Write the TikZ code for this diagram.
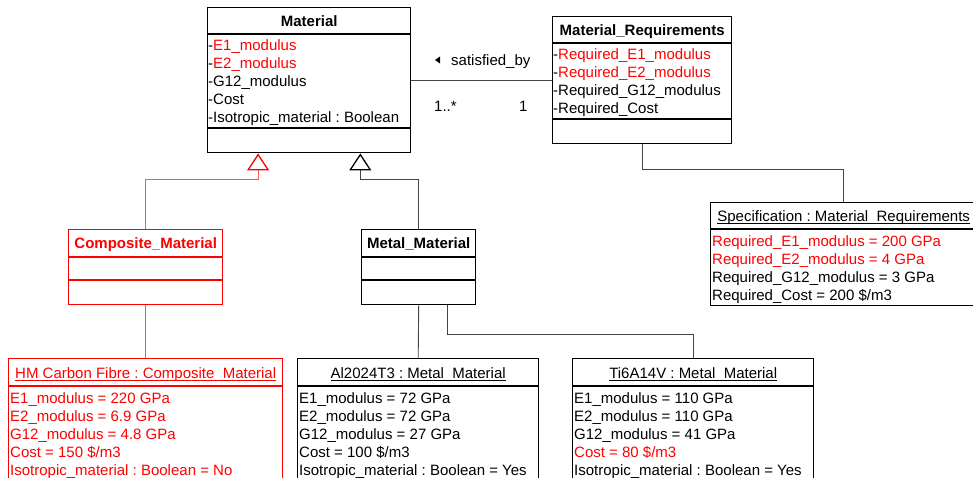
\documentclass[tikz,border=0pt]{standalone}
\usepackage{fontspec}
\setmainfont{Liberation Sans}
\usetikzlibrary{calc,arrows.meta}
\frenchspacing
\definecolor{umlred}{RGB}{255,0,0}
\definecolor{linkgray}{RGB}{70,70,70}
\definecolor{linkred}{RGB}{255,85,85}
% underline drawn close to the baseline, at the level of the underscores
\newcommand{\ulname}[1]{\setbox0\hbox{#1}\rlap{\rule[-2.4pt]{\wd0}{0.9pt}}\box0}
% horizontal compartment separator inside a class box
\newcommand{\sepline}[3]{\draw[sep,#3] ($(#1.north west)+(0,#2)$) -- ($(#1.north east)+(0,#2)$);}

\begin{document}
\begin{tikzpicture}[x=1pt,y=-1pt,
  box/.style={draw, line width=1.4pt, rectangle, inner sep=0pt, anchor=north west},
  sep/.style={line width=1.4pt},
  txt/.style={inner sep=0pt, anchor=base west, font=\fontsize{15}{18}\selectfont},
  hdr/.style={inner sep=0pt, anchor=base, font=\fontsize{15}{18}\selectfont\bfseries},
  inst/.style={inner sep=0pt, anchor=base, font=\fontsize{15}{18}\selectfont},
  link/.style={line width=0.9pt, draw=linkgray},
  gen/.style={link, -{Triangle[open, length=17pt, width=22pt, line width=1.3pt, color=black]}},
  genred/.style={line width=0.9pt, draw=linkred, -{Triangle[open, length=17pt, width=22pt, line width=1.3pt, color=umlred]}},
]
\useasboundingbox (0,0) rectangle (973,477);
\clip (0,0) rectangle (973,477);

% ---------- classes ----------
\node[box, minimum width=203, minimum height=145] (material) at (207,7) {};
\sepline{material}{27}{black}
\sepline{material}{121}{black}
\node[hdr] (materialT) at ($(material.north)+(0,19)$) {Material};
\node[txt] (ma1) at (208,50) {-\textcolor{umlred}{E1\_modulus}};
\node[txt] (ma2) at (208,68) {-\textcolor{umlred}{E2\_modulus}};
\node[txt] (ma3) at (208,86) {-G12\_modulus};
\node[txt] (ma4) at (208,104) {-Cost};
\node[txt] (ma5) at (208,122) {-Isotropic\_material : Boolean};

\node[box, minimum width=179, minimum height=127] (req) at (552,16) {};
\sepline{req}{27}{black}
\sepline{req}{103}{black}
\node[hdr] (reqT) at ($(req.north)+(0,19)$) {Material\_Requirements};
\node[txt] (ra1) at (553,59) {-\textcolor{umlred}{Required\_E1\_modulus}};
\node[txt] (ra2) at (553,77) {-\textcolor{umlred}{Required\_E2\_modulus}};
\node[txt] (ra3) at (553,95) {-Required\_G12\_modulus};
\node[txt] (ra4) at (553,113) {-Required\_Cost};

\node[box, draw=umlred, minimum width=154, minimum height=75] (comp) at (68,229) {};
\sepline{comp}{28}{umlred}
\sepline{comp}{51}{umlred}
\node[hdr, text=umlred] (compT) at ($(comp.north)+(0,19)$) {Composite\_Material};

\node[box, minimum width=114, minimum height=75] (metal) at (361,229) {};
\sepline{metal}{28}{black}
\sepline{metal}{51}{black}
\node[hdr] (metalT) at ($(metal.north)+(0,19)$) {Metal\_Material};

% ---------- instances ----------
\node[box, minimum width=266, minimum height=103] (spec) at (710,202) {};
\sepline{spec}{27}{black}
\node[inst] (specT) at ($(spec.north)+(0,19)$) {\ulname{Specification : Material\_Requirements}};
\node[txt, text=umlred] (sa1) at (712,246) {Required\_E1\_modulus = 200 GPa};
\node[txt, text=umlred] (sa2) at (712,264) {Required\_E2\_modulus = 4 GPa};
\node[txt] (sa3) at (712,282) {Required\_G12\_modulus = 3 GPa};
\node[txt] (sa4) at (712,300) {Required\_Cost = 200 \$/m3};

\node[box, draw=umlred, minimum width=274, minimum height=140] (hm) at (8,358) {};
\sepline{hm}{28}{umlred}
\node[inst, text=umlred] (hmT) at ($(hm.north)+(0,20)$) {\ulname{HM Carbon Fibre : Composite\_Material}};
\node[txt, text=umlred] (ha1) at (10,403) {E1\_modulus = 220 GPa};
\node[txt, text=umlred] (ha2) at (10,421) {E2\_modulus = 6.9 GPa};
\node[txt, text=umlred] (ha3) at (10,439) {G12\_modulus = 4.8 GPa};
\node[txt, text=umlred] (ha4) at (10,457) {Cost = 150 \$/m3};
\node[txt, text=umlred] (ha5) at (10,475) {Isotropic\_material : Boolean = No};

\node[box, minimum width=241, minimum height=140] (al) at (297,358) {};
\sepline{al}{28}{black}
\node[inst] (alT) at ($(al.north)+(0,20)$) {\ulname{Al2024T3 : Metal\_Material}};
\node[txt] (aa1) at (299,403) {E1\_modulus = 72 GPa};
\node[txt] (aa2) at (299,421) {E2\_modulus = 72 GPa};
\node[txt] (aa3) at (299,439) {G12\_modulus = 27 GPa};
\node[txt] (aa4) at (299,457) {Cost = 100 \$/m3};
\node[txt] (aa5) at (299,475) {Isotropic\_material : Boolean = Yes};

\node[box, minimum width=241, minimum height=140] (ti) at (572,358) {};
\sepline{ti}{28}{black}
\node[inst] (tiT) at ($(ti.north)+(0,20)$) {\ulname{Ti6A14V : Metal\_Material}};
\node[txt] (ta1) at (574,403) {E1\_modulus = 110 GPa};
\node[txt] (ta2) at (574,421) {E2\_modulus = 110 GPa};
\node[txt] (ta3) at (574,439) {G12\_modulus = 41 GPa};
\node[txt, text=umlred] (ta4) at (574,457) {Cost = 80 \$/m3};
\node[txt] (ta5) at (574,475) {Isotropic\_material : Boolean = Yes};

% ---------- association ----------
\draw[link] (material.east) -- (req.west);
\fill (435,60) -- (440,56.5) -- (440,63.5) -- cycle;
\node[txt] (assoc) at (451,65) {satisfied\_by};
\node[txt] (multA) at (434,111) {1..*};
\node[txt] (multB) at (519,111) {1};

% ---------- generalizations ----------
\path (material.south west) -- (material.south east)
  coordinate[pos=0.25] (tipC) coordinate[pos=0.75] (tipM);
\draw[genred] (comp.north) |- ($(tipC)+(0,26)$) -- (tipC);
\draw[gen] (metal.north) |- ($(tipM)+(0,26)$) -- (tipM);

% ---------- instance links ----------
\draw[link] (req.south) -- ++(0,25) -| (spec.north);
\draw[line width=0.9pt, draw=linkred] (comp.south) -- (hm.north);
\draw[link] (metal.south) -- (al.north);
\draw[link] ([xshift=29pt]metal.south) -- ++(0,29) -| (ti.north);
\end{tikzpicture}
\end{document}
